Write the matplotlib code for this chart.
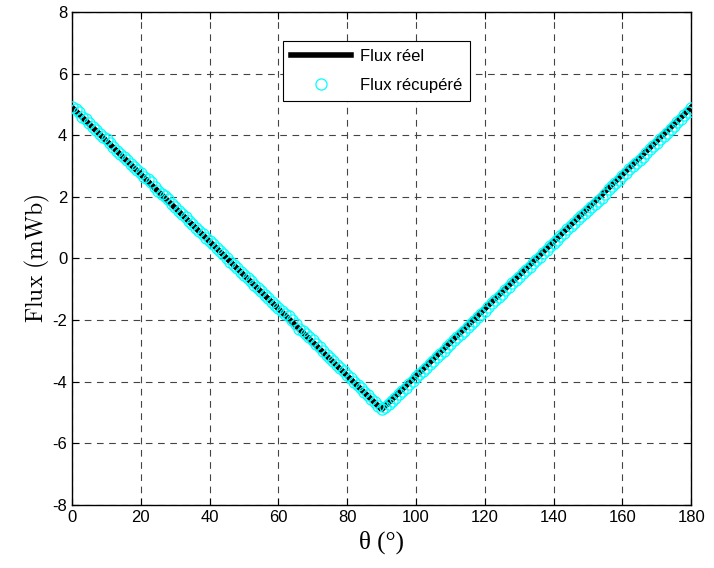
import matplotlib
matplotlib.use('Agg')
import matplotlib.pyplot as plt

# Flux reel (V-shape)
theta_reel = [0, 90, 180]
flux_reel = [4.9, -4.9, 4.9]

# Flux recupere, read every 1 degree
theta_rec = list(range(0, 181))
flux_rec = [
    4.93, 4.84, 4.74, 4.60, 4.52, 4.38, 4.27, 4.18, 4.05, 3.95,
    3.88, 3.74, 3.62, 3.50, 3.40, 3.30, 3.19, 3.06, 2.98, 2.86,
    2.76, 2.64, 2.58, 2.47, 2.32, 2.20, 2.10, 2.02, 1.94, 1.78,
    1.66, 1.55, 1.45, 1.33, 1.22, 1.12, 1.00, 0.90, 0.78, 0.67,
    0.57, 0.46, 0.35, 0.24, 0.13, 0.02, -0.10, -0.20, -0.31, -0.43,
    -0.53, -0.63, -0.74, -0.86, -0.96, -1.07, -1.18, -1.29, -1.40, -1.50,
    -1.60, -1.70, -1.80, -1.88, -2.00, -2.12, -2.30, -2.36, -2.44, -2.55,
    -2.66, -2.78, -2.88, -3.00, -3.12, -3.22, -3.33, -3.45, -3.56, -3.66,
    -3.78, -3.88, -4.00, -4.12, -4.22, -4.33, -4.44, -4.55, -4.66, -4.78,
    -4.88, -4.82, -4.72, -4.62, -4.52, -4.41, -4.30, -4.20, -4.08, -3.98,
    -3.86, -3.76, -3.65, -3.54, -3.42, -3.32, -3.21, -3.10, -2.99, -2.88,
    -2.78, -2.66, -2.56, -2.44, -2.34, -2.23, -2.12, -2.02, -1.90, -1.80,
    -1.69, -1.58, -1.46, -1.36, -1.25, -1.14, -1.03, -0.92, -0.81, -0.70,
    -0.59, -0.48, -0.38, -0.27, -0.16, -0.05, 0.06, 0.17, 0.28, 0.39,
    0.50, 0.61, 0.72, 0.83, 0.94, 1.05, 1.16, 1.27, 1.38, 1.48,
    1.58, 1.68, 1.76, 1.85, 1.95, 2.10, 2.26, 2.36, 2.46, 2.56,
    2.66, 2.78, 2.90, 3.00, 3.10, 3.20, 3.30, 3.42, 3.54, 3.64,
    3.76, 3.88, 3.98, 4.08, 4.20, 4.31, 4.42, 4.54, 4.65, 4.76,
    4.88,
]

xticks = list(range(0, 181, 20))
yticks = list(range(-8, 9, 2))

plt.rcParams['font.family'] = ['Liberation Sans', 'DejaVu Sans']
plt.rcParams['mathtext.fontset'] = 'cm'
plt.rcParams['axes.unicode_minus'] = False

fig = plt.figure(figsize=(7.14, 5.68), dpi=100)
ax = fig.add_axes([0.101, 0.111, 0.867, 0.868])

ax.plot(theta_reel, flux_reel, color='black', lw=4, label='Flux réel', zorder=2)
ax.plot(theta_rec, flux_rec, ls='none', marker='o', ms=8, mfc='none',
        mec='cyan', mew=0.9, label='Flux récupéré', zorder=3)

ax.set_xlim(0, 180)
ax.set_ylim(-8, 8)
ax.set_xticks(xticks)
ax.set_yticks(yticks)
ax.tick_params(direction='in', top=True, right=True, labelsize=12, length=5, width=0.8)
ax.grid(True, color='#444444', ls=(0, (6, 5)), lw=0.8)
for s in ax.spines.values():
    s.set_linewidth(1.0)

ax.set_xlabel('θ (°)', fontsize=18, labelpad=4,
              family=['Liberation Serif', 'DejaVu Serif'])
ax.set_ylabel(r'$\mathrm{Flux\ (mWb)}$', fontsize=17, labelpad=0)

leg = ax.legend(loc='upper left', bbox_to_anchor=(0.327, 0.958), fontsize=12,
                fancybox=False, edgecolor='black', framealpha=1,
                handlelength=3.6, borderpad=0.5, labelspacing=0.8,
                handletextpad=0.5)
leg.get_frame().set_linewidth(0.8)

plt.savefig('out.png', dpi=100)
